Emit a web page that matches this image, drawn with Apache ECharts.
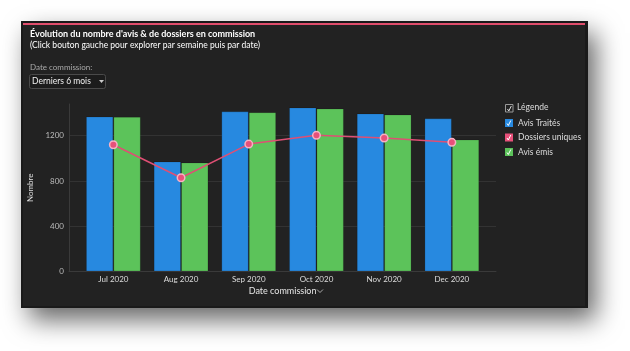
<!DOCTYPE html>
<html><head><meta charset="utf-8">
<script src="https://cdn.jsdelivr.net/npm/echarts@6/dist/echarts.min.js"></script>
<style>html,body{margin:0;padding:0;background:#fff}#c{width:630px;height:351px}</style>
</head><body><div id="c"></div>
<script>
const categories = ['Jul 2020','Aug 2020','Sep 2020','Oct 2020','Nov 2020','Dec 2020'];
const avisTraites = [1370, 973, 1415, 1450, 1397, 1353];
const avisEmis = [1368, 964, 1408, 1441, 1388, 1167];
const dossiersUniques = [1120, 828, 1126, 1203, 1179, 1141];
const yTicks = [0, 400, 800, 1200];

const FONT = 'Lato';
const chart = echarts.init(document.getElementById('c'));
function check(x, y, color) {
  return { type: 'polyline', z: 100, shape: { points: [[x + 2, y + 4.5], [x + 3.3, y + 6.5], [x + 5.8, y + 1.5]] },
    style: { stroke: color, lineWidth: 1, fill: null } };
}
chart.setOption({
  backgroundColor: '#ffffff',
  animation: false,
  textStyle: { fontFamily: FONT },
  graphic: [
    { type: 'rect', z: -10, shape: { x: 21, y: 21, width: 567, height: 287 },
      style: { fill: '#1a1a1a', shadowBlur: 24, shadowOffsetX: 8, shadowOffsetY: 12, shadowColor: 'rgba(0,0,0,0.6)' } },
    { type: 'rect', z: -9, shape: { x: 23, y: 23, width: 562, height: 283 }, style: { fill: '#222222' } },
    { type: 'rect', z: -8, shape: { x: 23, y: 23, width: 562, height: 2 }, style: { fill: '#e04d6c' } },
    { type: 'text', left: 30, top: 30, style: { text: "Évolution du nombre d'avis & de dossiers en commission", fill: '#ffffff', font: 'bold 9px Lato' } },
    { type: 'text', left: 30, top: 41, style: { text: '(Click bouton gauche pour explorer par semaine puis par date)', fill: '#ffffff', font: '8.5px Lato' } },
    { type: 'text', left: 30, top: 63, style: { text: 'Date commission:', fill: '#aaaaaa', font: '8px Lato' } },
    { type: 'rect', shape: { x: 29.5, y: 74.5, width: 76, height: 14, r: 2 }, style: { fill: '#1c1c1c', stroke: '#4a4a4a', lineWidth: 1 } },
    { type: 'text', left: 32, top: 76.5, style: { text: 'Derniers 6 mois', fill: '#eeeeee', font: '8.5px Lato' } },
    { type: 'polygon', shape: { points: [[99, 80], [104, 80], [101.5, 83]] }, style: { fill: '#cccccc' } },
    { type: 'rect', shape: { x: 505.5, y: 104.5, width: 7.5, height: 7.5 }, style: { fill: 'none', stroke: '#999999', lineWidth: 1 } },
    check(505.5, 104.5, '#dddddd'),
    { type: 'text', left: 517, top: 103, style: { text: 'Légende', fill: '#dddddd', font: '8.5px Lato' } },
    check(505, 119, '#ffffff'),
    check(505, 133.5, '#ffffff'),
    check(505, 148, '#ffffff'),
    { type: 'polyline', shape: { points: [[317, 289.5], [320, 292.5], [323, 289.5]] }, style: { stroke: '#cccccc', lineWidth: 0.8, fill: null } }
  ],
  legend: {
    orient: 'vertical', left: 505, top: 118, padding: 0, itemWidth: 8, itemHeight: 8, itemGap: 4.5, icon: 'rect',
    itemStyle: { borderWidth: 0 },
    textStyle: { color: '#dddddd', fontSize: 8.5, fontFamily: FONT, lineHeight: 10 },
    data: ['Avis Traités', 'Dossiers uniques', 'Avis émis']
  },
  grid: [
    { left: 69, right: 134, top: 104, bottom: 79.5 },
    { left: 79.5, right: 144.3, top: 104, bottom: 79.5 }
  ],
  xAxis: [
    { type: 'value', gridIndex: 0, min: 0, max: 1, axisLine: { show: true, lineStyle: { color: '#3a3a3a' } },
      axisTick: { show: false }, axisLabel: { show: false }, splitLine: { show: false } },
    { type: 'category', gridIndex: 1, data: categories, axisLine: { show: false }, axisTick: { show: false },
      axisLabel: { color: '#dddddd', fontSize: 8, fontFamily: FONT, margin: 4 },
      name: 'Date commission', nameLocation: 'middle', nameGap: 15,
      nameTextStyle: { color: '#e6e6e6', fontSize: 9, fontFamily: FONT } }
  ],
  yAxis: [
    { type: 'value', gridIndex: 0, min: 0, max: 1480, interval: 400,
      axisLine: { show: true, lineStyle: { color: '#3a3a3a' } }, axisTick: { show: false },
      axisLabel: { color: '#bbbbbb', fontSize: 8, fontFamily: FONT, margin: 5, showMaxLabel: false,
        formatter: v => yTicks.includes(v) ? String(v) : '' },
      splitLine: { show: true, lineStyle: { color: ['#333333', '#333333', '#333333', '#333333', 'rgba(0,0,0,0)'] } },
      name: 'Nombre', nameLocation: 'middle', nameGap: 29, nameRotate: 90,
      nameTextStyle: { color: '#dddddd', fontSize: 8, fontFamily: FONT } },
    { type: 'value', gridIndex: 1, min: 0, max: 1480, show: false, splitLine: { show: false } }
  ],
  series: [
    { name: 'Avis Traités', type: 'bar', xAxisIndex: 1, yAxisIndex: 1, data: avisTraites,
      barGap: '0%', barCategoryGap: '19%',
      itemStyle: { color: '#2789e0', borderColor: 'rgba(0,0,0,0.15)', borderWidth: 1 } },
    { name: 'Avis émis', type: 'bar', xAxisIndex: 1, yAxisIndex: 1, data: avisEmis,
      barGap: '0%', barCategoryGap: '19%',
      itemStyle: { color: '#5cc35a', borderColor: 'rgba(0,0,0,0.15)', borderWidth: 1 } },
    { name: 'Dossiers uniques', type: 'line', xAxisIndex: 1, yAxisIndex: 1, data: dossiersUniques, z: 5,
      symbol: 'circle', symbolSize: 7.5,
      lineStyle: { color: '#df4f74', width: 1.5 },
      itemStyle: { color: '#e8507a', borderColor: '#f7b2c4', borderWidth: 1.5 } }
  ]
});
</script></body></html>
